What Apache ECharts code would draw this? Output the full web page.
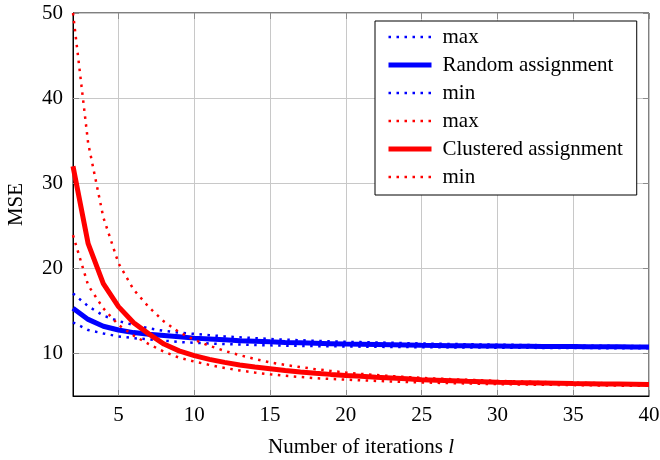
<!DOCTYPE html>
<html>
<head>
<meta charset="utf-8">
<script src="https://cdn.jsdelivr.net/npm/echarts@6/dist/echarts.min.js"></script>
<style>
  html, body { margin: 0; padding: 0; background: #fff; }
  #chart { width: 660px; height: 460px; }
</style>
</head>
<body>
<div id="chart"></div>
<script>
// iterations l = 2 .. 40
const iterations = [2, 3, 4, 5, 6, 7, 8, 9, 10, 11, 12, 13, 14, 15, 16, 17, 18, 19, 20, 21,
  22, 23, 24, 25, 26, 27, 28, 29, 30, 31, 32, 33, 34, 35, 36, 37, 38, 39, 40];

const xTicks = [5, 10, 15, 20, 25, 30, 35, 40];
const yTicks = [10, 20, 30, 40, 50];

// random assignment
const randomMax = [17.05, 15.55, 14.45, 13.8, 13.35, 12.95, 12.65, 12.45, 12.3, 12.15,
  12.0, 11.9, 11.8, 11.7, 11.62, 11.55, 11.48, 11.42, 11.37, 11.33,
  11.29, 11.25, 11.21, 11.17, 11.14, 11.11, 11.08, 11.05, 11.03, 11.01,
  10.99, 10.97, 10.95, 10.93, 10.91, 10.9, 10.88, 10.87, 10.85];
const randomMean = [15.3, 14.0, 13.2, 12.75, 12.45, 12.25, 12.1, 11.95, 11.8, 11.7,
  11.6, 11.5, 11.43, 11.36, 11.3, 11.25, 11.2, 11.15, 11.1, 11.07,
  11.04, 11.01, 10.98, 10.95, 10.93, 10.91, 10.89, 10.87, 10.86, 10.85,
  10.84, 10.83, 10.82, 10.81, 10.8, 10.79, 10.78, 10.76, 10.75];
const randomMin = [13.65, 12.75, 12.35, 12.0, 11.8, 11.65, 11.5, 11.35, 11.25, 11.17,
  11.1, 11.04, 10.99, 10.95, 10.92, 10.89, 10.86, 10.84, 10.82, 10.8,
  10.78, 10.76, 10.75, 10.73, 10.72, 10.71, 10.7, 10.69, 10.68, 10.67,
  10.66, 10.65, 10.64, 10.63, 10.63, 10.62, 10.61, 10.61, 10.6];

// clustered assignment
const clusteredMax = [50, 34.7, 26.0, 20.6, 17.5, 15.45, 13.75, 12.5, 11.6, 10.9,
  10.3, 9.8, 9.35, 8.95, 8.65, 8.4, 8.15, 7.95, 7.75, 7.6,
  7.46, 7.34, 7.23, 7.13, 7.05, 6.97, 6.9, 6.84, 6.78, 6.73,
  6.68, 6.64, 6.6, 6.57, 6.54, 6.51, 6.48, 6.46, 6.44];
const clusteredMean = [32, 22.9, 18.2, 15.5, 13.6, 12.3, 11.1, 10.3, 9.75, 9.3,
  8.95, 8.65, 8.4, 8.2, 8.0, 7.83, 7.68, 7.54, 7.42, 7.31,
  7.21, 7.12, 7.03, 6.9, 6.84, 6.78, 6.72, 6.67, 6.62, 6.58,
  6.55, 6.52, 6.49, 6.46, 6.44, 6.42, 6.4, 6.38, 6.36];
const clusteredMin = [23.9, 18.0, 15.3, 13.35, 12.1, 11.1, 10.2, 9.5, 9.05, 8.65,
  8.3, 8.0, 7.75, 7.55, 7.38, 7.23, 7.1, 7.0, 6.92, 6.84,
  6.77, 6.71, 6.65, 6.6, 6.55, 6.51, 6.47, 6.43, 6.4, 6.37,
  6.34, 6.32, 6.3, 6.28, 6.26, 6.24, 6.22, 6.21, 6.2];

const FONT = '"Liberation Serif", "DejaVu Serif", serif';
const DOT_WIDTH = 2.5;
const SOLID_WIDTH = 5;

function pairs(values) {
  return iterations.map((x, i) => [x, values[i]]);
}

function line(name, values, color, dotted) {
  return {
    name: name,
    type: 'line',
    data: pairs(values),
    symbol: 'none',
    animation: false,
    lineStyle: dotted
      ? { color: color, width: DOT_WIDTH, type: [2.5, 5.5] }
      : { color: color, width: SOLID_WIDTH },
    itemStyle: { color: color }
  };
}

function legendItem(name, dotted) {
  return { name: name, lineStyle: { width: dotted ? DOT_WIDTH : SOLID_WIDTH } };
}

const chart = echarts.init(document.getElementById('chart'));

const gridLine = { show: true, lineStyle: { color: '#c8c8c8', width: 1 } };
const innerTick = { show: true, inside: true, length: 6, lineStyle: { color: '#8c8c8c', width: 1 } };

chart.setOption({
  backgroundColor: '#fff',
  textStyle: { fontFamily: FONT },
  grid: {
    left: 73, right: 11, top: 13, bottom: 64,
    outerBoundsMode: 'none',
    containLabel: false,
    show: true, borderColor: '#000', borderWidth: 1
  },
  legend: {
    orient: 'vertical',
    left: 375,
    top: 21,
    padding: [4, 14, 6, 11],
    itemWidth: 43,
    itemHeight: 14,
    itemGap: 4,
    backgroundColor: '#fff',
    borderColor: '#000',
    borderWidth: 1,
    borderRadius: 0,
    itemStyle: { opacity: 0 },
    textStyle: { fontFamily: FONT, fontSize: 21, lineHeight: 24, color: '#000', padding: [0, 0, 0, 6] },
    data: [
      legendItem('max', true),
      legendItem('Random assignment', false),
      legendItem('min', true),
      legendItem('max ', true),
      legendItem('Clustered assignment', false),
      legendItem('min ', true)
    ]
  },
  xAxis: [
    {
      type: 'value',
      min: 2, max: 40,
      name: 'Number of iterations {i|l}',
      nameLocation: 'middle',
      nameGap: 41,
      nameTextStyle: {
        fontFamily: FONT, fontSize: 21, color: '#000',
        rich: { i: { fontFamily: FONT, fontSize: 21, fontStyle: 'italic', color: '#000' } }
      },
      axisLine: { show: true, lineStyle: { color: '#000', width: 1 } },
      axisTick: Object.assign({ customValues: xTicks }, innerTick),
      axisLabel: { customValues: xTicks, fontFamily: FONT, fontSize: 21, color: '#000', margin: 9 },
      splitLine: gridLine
    },
    {
      type: 'value',
      position: 'top',
      min: 2, max: 40,
      axisLine: { show: false },
      axisTick: Object.assign({ customValues: xTicks }, innerTick),
      axisLabel: { show: false, customValues: xTicks },
      splitLine: { show: false }
    }
  ],
  yAxis: [
    {
      type: 'value',
      min: 5, max: 50,
      name: 'MSE',
      nameLocation: 'middle',
      nameGap: 46,
      nameTextStyle: { fontFamily: FONT, fontSize: 21, color: '#000' },
      axisLine: { show: true, lineStyle: { color: '#000', width: 1 } },
      axisTick: Object.assign({ customValues: yTicks }, innerTick),
      axisLabel: { customValues: yTicks, fontFamily: FONT, fontSize: 21, color: '#000', margin: 10 },
      splitLine: gridLine
    },
    {
      type: 'value',
      position: 'right',
      min: 5, max: 50,
      axisLine: { show: false },
      axisTick: Object.assign({ customValues: yTicks }, innerTick),
      axisLabel: { show: false, customValues: yTicks },
      splitLine: { show: false }
    }
  ],
  series: [
    line('max', randomMax, '#0000ff', true),
    line('Random assignment', randomMean, '#0000ff', false),
    line('min', randomMin, '#0000ff', true),
    line('max ', clusteredMax, '#ff0000', true),
    line('Clustered assignment', clusteredMean, '#ff0000', false),
    line('min ', clusteredMin, '#ff0000', true)
  ]
});
</script>
</body>
</html>
